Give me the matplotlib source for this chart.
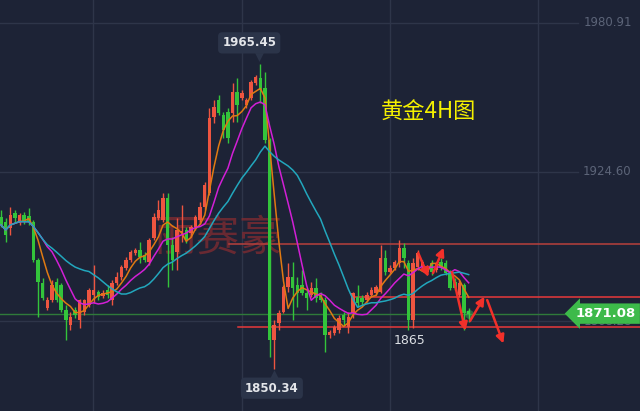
import numpy as np
import pandas as pd
import matplotlib
matplotlib.use('Agg')
import matplotlib.pyplot as plt
import matplotlib.transforms as mtransforms

# 4H candles (open, high, low, close)
opens = [1907.6, 1905.7, 1903.4, 1909.1, 1905.3, 1908.3, 1907.9, 1905.7, 1891.3, 1882.6,
         1873.2, 1876.2, 1883.0, 1881.9, 1872.4, 1866.8, 1872.4, 1868.6, 1871.7, 1874.3,
         1878.1, 1879.2, 1877.7, 1880.0, 1876.2, 1882.6, 1884.9, 1888.3, 1891.3, 1894.0,
         1895.1, 1893.2, 1890.6, 1899.6, 1907.2, 1906.4, 1914.8, 1897.0, 1894.3, 1901.9,
         1902.7, 1901.5, 1903.8, 1906.4, 1911.4, 1916.7, 1945.4, 1951.8, 1946.1, 1947.3,
         1946.9, 1954.8, 1952.6, 1949.9, 1952.6, 1958.2, 1960.1, 1956.3, 1936.7, 1861.1,
         1867.5, 1871.7, 1881.1, 1884.9, 1881.9, 1881.9, 1878.9, 1878.1, 1880.7, 1878.1,
         1876.2, 1863.0, 1863.7, 1864.9, 1870.5, 1866.0, 1871.3, 1877.3, 1877.0, 1876.2,
         1878.1, 1878.9, 1879.2, 1892.1, 1886.8, 1888.3, 1890.2, 1895.9, 1890.2, 1868.6,
         1888.7, 1888.7, 1886.8, 1890.2, 1887.5, 1890.6, 1890.2, 1886.4, 1883.0, 1878.1,
         1881.9, 1872.0]
highs = [1910.2, 1907.2, 1911.4, 1910.2, 1909.1, 1909.5, 1911.0, 1906.4, 1892.1, 1884.5,
         1877.3, 1883.8, 1884.5, 1882.6, 1874.3, 1871.7, 1873.6, 1876.6, 1876.6, 1880.7,
         1889.4, 1880.0, 1880.0, 1881.9, 1883.8, 1886.8, 1889.4, 1892.5, 1895.1, 1895.9,
         1898.1, 1894.3, 1899.6, 1909.1, 1914.0, 1916.7, 1916.7, 1900.0, 1907.2, 1912.1,
         1903.8, 1904.6, 1908.3, 1913.2, 1920.8, 1948.8, 1951.8, 1953.7, 1947.3, 1948.8,
         1958.2, 1960.1, 1955.6, 1952.6, 1959.4, 1961.3, 1965.45, 1962.4, 1937.4, 1868.6,
         1872.4, 1881.9, 1890.2, 1890.6, 1884.9, 1887.5, 1880.7, 1883.0, 1884.5, 1879.2,
         1877.3, 1864.9, 1866.8, 1870.5, 1871.7, 1871.7, 1879.2, 1881.9, 1878.1, 1879.2,
         1881.1, 1881.9, 1897.0, 1895.1, 1889.4, 1891.3, 1898.9, 1897.8, 1891.3, 1892.1,
         1895.1, 1891.3, 1889.4, 1891.3, 1890.6, 1892.1, 1891.3, 1887.5, 1884.5, 1883.8,
         1882.6, 1873.2]
lows = [1903.8, 1898.1, 1900.8, 1905.7, 1904.6, 1905.0, 1904.6, 1890.6, 1869.8, 1876.2,
        1872.4, 1875.4, 1875.4, 1871.7, 1861.1, 1864.9, 1869.4, 1865.6, 1870.5, 1873.6,
        1875.1, 1876.2, 1877.0, 1877.0, 1874.3, 1881.9, 1883.8, 1887.5, 1890.6, 1893.2,
        1890.2, 1890.6, 1889.4, 1898.9, 1906.4, 1905.7, 1881.1, 1887.5, 1887.5, 1898.1,
        1897.8, 1900.0, 1902.7, 1905.7, 1910.2, 1915.9, 1943.1, 1946.1, 1937.4, 1935.5,
        1943.5, 1943.5, 1951.8, 1948.8, 1951.8, 1957.5, 1950.7, 1935.5, 1854.7, 1850.34,
        1864.9, 1871.3, 1879.2, 1868.6, 1873.6, 1878.1, 1872.4, 1877.3, 1875.4, 1875.4,
        1856.5, 1861.8, 1863.0, 1863.7, 1866.8, 1863.7, 1869.4, 1873.6, 1874.3, 1875.4,
        1877.3, 1878.1, 1878.9, 1885.7, 1886.4, 1887.5, 1888.7, 1888.3, 1864.9, 1865.6,
        1887.5, 1887.5, 1885.7, 1885.7, 1886.8, 1887.5, 1885.7, 1880.0, 1880.0, 1877.3,
        1864.9, 1867.9]
closes = [1904.6, 1900.8, 1908.3, 1907.2, 1908.3, 1905.7, 1905.7, 1891.3, 1883.0, 1877.0,
          1876.2, 1881.9, 1876.2, 1872.4, 1868.6, 1869.8, 1870.5, 1876.2, 1876.2, 1880.0,
          1880.0, 1877.3, 1878.9, 1878.1, 1882.6, 1884.9, 1888.7, 1891.3, 1894.3, 1895.1,
          1892.5, 1891.3, 1898.9, 1907.6, 1910.2, 1914.8, 1897.0, 1891.3, 1902.7, 1902.3,
          1898.9, 1903.8, 1907.6, 1911.4, 1919.7, 1945.0, 1949.2, 1946.9, 1940.5, 1937.4,
          1954.8, 1949.9, 1954.5, 1951.8, 1958.6, 1960.5, 1955.6, 1936.7, 1861.1, 1866.8,
          1871.3, 1881.1, 1884.9, 1880.7, 1878.9, 1878.9, 1877.0, 1880.7, 1877.0, 1876.2,
          1863.0, 1864.1, 1866.0, 1869.4, 1868.6, 1869.8, 1878.9, 1875.1, 1875.4, 1878.1,
          1880.0, 1881.1, 1892.1, 1886.8, 1888.3, 1890.6, 1895.9, 1892.1, 1868.6, 1890.2,
          1894.0, 1890.6, 1888.7, 1886.8, 1890.2, 1888.7, 1886.4, 1880.7, 1880.7, 1882.6,
          1871.3, 1871.08]

ma_periods = [5, 10, 20]
ma_colors = ['#e07a12', '#d21fd6', '#22a7bd']

price_ticks = [1980.91, 1924.60, 1868.28]
time_grid = [19.9, 52.0, 84.0, 116.0]

last_price = 1871.08
peak_price = 1965.45
low_price = 1850.34

# horizontal lines: (price, first candle index, colour)
levels = [(1897.4, 49.2, '#b8403c'), (1877.3, 75.8, '#e8393a'), (1866.0, 51.2, '#e8393a')]

# hand drawn arrows: ((x0, p0), (x1, p1))
arrows = [((90.1, 1894.0), (92.3, 1885.0)),
          ((93.3, 1886.4), (95.6, 1896.0)),
          ((97.4, 1886.8), (100.3, 1864.6)),
          ((101.3, 1868.3), (104.4, 1877.5)),
          ((105.0, 1876.2), (108.5, 1859.8))]

bg = '#1d2336'
up_col = '#ee5540'
down_col = '#33c43b'
cjk = ['Noto Sans CJK SC', 'DejaVu Sans']

fig = plt.figure(figsize=(6.4, 4.11), dpi=100, facecolor=bg)
ax = fig.add_axes([0, 0, 1, 1], facecolor=bg)
ax.set_xlim(-0.22, 138.0)
ax.set_ylim(1834.28, 1989.60)
for s in ax.spines.values():
    s.set_visible(False)
ax.set_xticks([])
ax.set_yticks([])

trans = mtransforms.blended_transform_factory(ax.transAxes, ax.transData)

# grid
for t in time_grid:
    ax.axvline(t, color='#2e3549', lw=1, zorder=0)
for p in price_ticks:
    ax.plot([0, 0.903], [p, p], transform=trans, color='#2e3549', lw=1, zorder=0)
    ax.text(0.987, p, '%.2f' % p, transform=trans, ha='right', va='center',
            color='#5c6478', fontsize=8.5, zorder=1)

# watermark
ax.text(47.0, 1899.5, '丽赛豪', ha='center', va='center', fontsize=31,
        color='#7d2b31', alpha=0.8, family=cjk, zorder=1)

# levels
ax.axhline(last_price, color='#2f7a3a', lw=1, zorder=2)
for p, x0, c in levels:
    ax.plot([x0, 140], [p, p], color=c, lw=1.1, zorder=2)

# candles
o = np.array(opens)
h = np.array(highs)
l = np.array(lows)
c = np.array(closes)
idx = np.arange(len(o))
cols = np.where(c >= o, up_col, down_col)
ax.vlines(idx, l, h, colors=cols, lw=1, zorder=3)
body = np.maximum(np.abs(c - o), 0.4)
ax.bar(idx, body, bottom=np.minimum(o, c), width=0.74, color=cols, zorder=3)

# moving averages
cs = pd.Series(closes)
for n, col in zip(ma_periods, ma_colors):
    ax.plot(idx, cs.rolling(n, min_periods=1).mean(), color=col, lw=1.1, zorder=4)

# last candle glow
ax.scatter([idx[-1]], [last_price], s=40, color='#4de05a', alpha=0.35, zorder=5, lw=0)

# arrows
for (x0, p0), (x1, p1) in arrows:
    ax.annotate('', xy=(x1, p1), xytext=(x0, p0),
                arrowprops=dict(arrowstyle='-|>', color='#f2302a', lw=1.8,
                                mutation_scale=12, shrinkA=0, shrinkB=0), zorder=6)

# peak / low labels
box = dict(boxstyle='round,pad=0.35', fc='#2b3449', ec='none')
ax.text(53.6, 1973.4, '%.2f' % peak_price, ha='center', va='center', color='#e4e6ea',
        fontsize=8.5, fontweight='bold', bbox=box, zorder=7)
ax.scatter([55.7], [1967.9], marker='v', s=40, color='#2b3449', zorder=7, lw=0)
ax.text(58.5, 1842.9, '%.2f' % low_price, ha='center', va='center', color='#e4e6ea',
        fontsize=8.5, fontweight='bold', bbox=box, zorder=7)
ax.scatter([59.0], [1848.4], marker='^', s=40, color='#2b3449', zorder=7, lw=0)

ax.text(88.3, 1861.1, '1865', ha='center', va='center', color='#dcdfe4', fontsize=9, zorder=7)

ax.text(92.4, 1947.3, '黄金4H图', ha='center', va='center', color='#f4f000', fontsize=16,
        family=cjk, zorder=7)

# current price tag
ax.text(0.947, last_price, '%.2f' % last_price, transform=trans, ha='center', va='center',
        color='white', fontsize=9.5, fontweight='bold', zorder=9,
        bbox=dict(boxstyle='larrow,pad=0.28', fc='#3dba4a', ec='none'))

fig.savefig('out.png', dpi=100, facecolor=bg)
